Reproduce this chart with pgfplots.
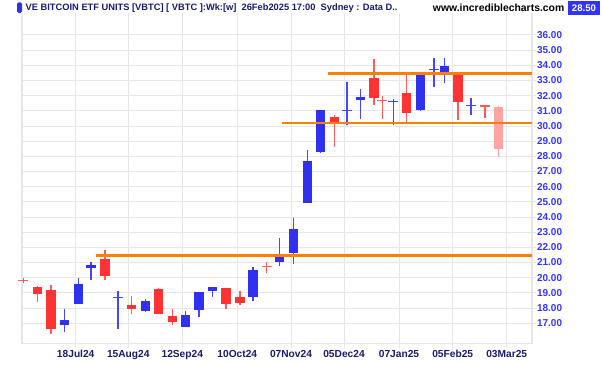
\documentclass[border=0pt]{standalone}
\usepackage{pgfplots}
\usepackage{pgfplotstable}
\pgfplotsset{compat=1.18}
\usepackage{fontspec}
\setmainfont{Liberation Sans}
\definecolor{cred}{RGB}{255,51,51}
\definecolor{credw}{RGB}{255,90,90}
\definecolor{cblue}{RGB}{48,48,240}
\definecolor{cbluew}{RGB}{70,70,255}
\definecolor{cpink}{RGB}{255,163,163}
\definecolor{corange}{RGB}{255,128,0}
\definecolor{cgrid}{RGB}{230,230,230}
\definecolor{cnavy}{RGB}{26,26,112}
\definecolor{cylab}{RGB}{51,51,255}

\pgfplotstableread{
x o h l c
37.3 19.37 19.45 18.42 18.93
51.0 19.19 19.50 16.27 16.60
105.0 21.25 21.83 19.85 20.13
131.7 18.20 18.79 17.61 17.94
158.3 19.26 19.30 17.60 17.61
172.3 17.46 17.92 16.88 17.08
226.0 19.30 19.35 17.92 18.25
240.0 18.75 19.12 18.18 18.31
334.3 30.57 30.73 28.64 30.18
374.0 33.17 34.42 31.39 31.83
406.3 32.16 33.48 30.28 30.84
458.0 33.54 33.54 30.40 31.60
}\redbody
\pgfplotstableread{
x o h l c
64.3 16.90 17.92 16.42 17.19
78.3 18.25 19.98 18.25 19.61
91.0 20.66 21.02 19.87 20.84
145.7 17.79 18.58 17.75 18.47
185.7 16.75 17.81 16.75 17.52
199.0 17.87 19.06 17.39 19.06
212.7 19.12 19.40 18.71 19.37
253.0 18.73 20.69 18.49 20.51
279.7 21.06 22.60 20.79 21.43
293.7 21.65 23.92 20.88 23.23
307.3 24.91 28.42 24.91 27.69
320.3 28.27 31.06 28.20 31.06
360.7 31.70 32.46 30.44 31.93
420.3 31.06 33.45 30.99 33.41
444.3 33.51 34.46 32.82 33.98
}\bluebody
\pgfplotstableread{
x o h l c
498.7 31.27 31.35 27.98 28.49
}\pinkbody
\pgfplotstableread{
x v h l
23.3 19.83 20.00 19.67
266.7 20.73 21.02 20.33
382.3 31.67 31.98 30.46
485.0 31.32 31.32 30.51
}\reddoji
\pgfplotstableread{
x v h l
118.0 18.71 19.12 16.64
347.0 31.01 32.90 30.05
393.3 31.60 31.78 30.05
434.0 33.74 34.46 32.59
471.0 31.34 31.83 30.73
}\bluedoji

\begin{document}
\begin{tikzpicture}
\path[use as bounding box] (0,0) rectangle (602pt,365pt);
\begin{axis}[
  at={(22pt,21.3pt)}, anchor=south west,
  scale only axis, width=510pt, height=330.7pt,
  xmin=22, xmax=532, ymin=15.65, ymax=37.45,
  clip=false,
  axis line style={draw=none},
  xtick={75.7,128.3,182.3,237.3,291,344,399,452.7,506.7},
  xticklabels={18Jul24,15Aug24,12Sep24,10Oct24,07Nov24,05Dec24,07Jan25,05Feb25,03Mar25},
  ytick={17,...,36},
  yticklabels={17.00,18.00,19.00,20.00,21.00,22.00,23.00,24.00,25.00,26.00,27.00,28.00,29.00,30.00,31.00,32.00,33.00,34.00,35.00,36.00},
  extra x ticks={22,532}, extra x tick labels={},
  extra y ticks={15.65}, extra y tick labels={},
  extra tick style={grid=major, major grid style={draw=cgrid, line width=1.5pt}, major tick length=0pt},
  grid=major,
  major grid style={draw=cgrid, line width=1pt},
  tick align=outside, major tick length=4pt,
  tick style={draw=cgrid, line width=1pt},
  xtick pos=bottom, ytick pos=right,
  yticklabel pos=right,
  x tick label style={font=\bfseries\fontsize{10.2}{11}\selectfont, text=cnavy, yshift=1pt},
  y tick label style={font=\bfseries\fontsize{10}{11}\selectfont, text=cylab, anchor=west, xshift=-2.5pt},
]
% wicks
\addplot[draw=none, mark=none, forget plot, error bars/.cd, y dir=plus, y explicit, error mark=none, error bar style={draw=credw, line width=1.3pt}]
  table[x=x, y=l, y error expr=\thisrow{h}-\thisrow{l}] {\redbody};
\addplot[draw=none, mark=none, forget plot, error bars/.cd, y dir=plus, y explicit, error mark=none, error bar style={draw=cbluew, line width=1.3pt}]
  table[x=x, y=l, y error expr=\thisrow{h}-\thisrow{l}] {\bluebody};
\addplot[draw=none, mark=none, forget plot, error bars/.cd, y dir=plus, y explicit, error mark=none, error bar style={draw=cpink, line width=1.3pt}]
  table[x=x, y=l, y error expr=\thisrow{h}-\thisrow{l}] {\pinkbody};
\addplot[draw=none, mark=none, forget plot, error bars/.cd, y dir=plus, y explicit, error mark=none, error bar style={draw=credw, line width=1.3pt}]
  table[x=x, y=l, y error expr=\thisrow{h}-\thisrow{l}] {\reddoji};
\addplot[draw=none, mark=none, forget plot, error bars/.cd, y dir=plus, y explicit, error mark=none, error bar style={draw=cbluew, line width=1.3pt}]
  table[x=x, y=l, y error expr=\thisrow{h}-\thisrow{l}] {\bluedoji};
% bodies
\addplot[draw=none, mark=none, forget plot, error bars/.cd, y dir=plus, y explicit, error mark=none, error bar style={draw=cred, line width=9.5pt}]
  table[x=x, y expr={min(\thisrow{o},\thisrow{c})}, y error expr={abs(\thisrow{c}-\thisrow{o})}] {\redbody};
\addplot[draw=none, mark=none, forget plot, error bars/.cd, y dir=plus, y explicit, error mark=none, error bar style={draw=cblue, line width=9.5pt}]
  table[x=x, y expr={min(\thisrow{o},\thisrow{c})}, y error expr={abs(\thisrow{c}-\thisrow{o})}] {\bluebody};
\addplot[draw=none, mark=none, forget plot, error bars/.cd, y dir=plus, y explicit, error mark=none, error bar style={draw=cpink, line width=9.5pt}]
  table[x=x, y expr={min(\thisrow{o},\thisrow{c})}, y error expr={abs(\thisrow{c}-\thisrow{o})}] {\pinkbody};
% doji bars
\addplot[draw=none, mark=none, forget plot, error bars/.cd, x dir=both, x fixed=5, error mark=none, error bar style={draw=credw, line width=1.5pt}]
  table[x=x, y=v] {\reddoji};
\addplot[draw=none, mark=none, forget plot, error bars/.cd, x dir=both, x fixed=5, error mark=none, error bar style={draw=cbluew, line width=1.5pt}]
  table[x=x, y=v] {\bluedoji};
% support / resistance lines
\addplot[draw=corange, line width=2.6pt, forget plot] coordinates {(96,21.45) (532,21.45)};
\addplot[draw=corange, line width=2.6pt, forget plot] coordinates {(282,30.20) (532,30.20)};
\addplot[draw=corange, line width=2.6pt, forget plot] coordinates {(328,33.48) (532,33.48)};
\end{axis}
% header
\fill[cblue, rounded corners=1.5pt] (17pt,352pt) rectangle (22pt,362.5pt);
\node[anchor=west, inner sep=0pt, text=cnavy, font=\bfseries\fontsize{9.3}{10}\selectfont] at (25.5pt,357pt) {VE BITCOIN ETF UNITS [VBTC] [ VBTC ]:Wk:[w]\ \ 26Feb2025 17:00\ \ Sydney : Data D..};
\node[anchor=east, inner sep=0pt, text=black, font=\bfseries\fontsize{10.4}{11}\selectfont] at (564.5pt,357.5pt) {www.incrediblecharts.com};
\fill[cylab] (568pt,350pt) rectangle (600pt,364pt);
\node[text=white, inner sep=0pt, font=\bfseries\fontsize{9.6}{10}\selectfont] at (584pt,357pt) {28.50};
\end{tikzpicture}
\end{document}
